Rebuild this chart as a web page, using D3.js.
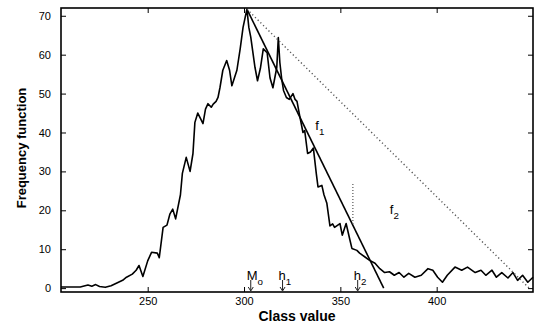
<!DOCTYPE html>
<html>
<head>
<meta charset="utf-8">
<script src="https://cdn.jsdelivr.net/npm/d3@7"></script>
<style>
  html, body { margin: 0; padding: 0; background: #fff; }
  svg { display: block; }
  text { font-family: "Liberation Sans", Arial, Helvetica, sans-serif; fill: #000; }
</style>
</head>
<body>
<svg id="chart" width="535" height="325"></svg>
<script>
// Class values (x) and frequency function values (y) of the histogram curve
const classValues = [205, 215, 219, 221, 223, 225, 228, 231, 234, 237, 239, 242, 244, 245.5, 247.5, 250, 252, 255, 256, 258,
  260, 261.5, 263, 264.5, 267, 268, 270, 272, 273.5, 274.5, 276, 277.5, 278.7, 280, 281.3, 283, 284, 285.5, 286.5, 287.5,
  289, 291, 292.5, 293.7, 295, 296.3, 298, 299.5, 301.5, 302.5, 303.5, 305.7, 307, 308.5, 310, 312, 313.5, 315, 317, 317.8,
  318.6, 319.5, 320.5, 322, 323.5, 325.4, 326.5, 327.5, 329, 330.6, 331.5, 333, 334.5, 336, 337.5, 338.4, 340.4, 341.5, 343, 344.6,
  346, 347, 349.8, 351, 353, 355, 356, 358.6, 360, 362.8, 365, 368, 370.5, 373, 375.5, 378, 380.5, 383, 385.5, 388.7,
  392, 395.5, 398, 400.5, 403, 405.5, 409.5, 413, 416, 420, 423, 425.5, 428.7, 431, 433.8, 437, 439.6, 442, 444.6, 447.3, 450];
const frequency = [0.3, 0.3, 0.8, 0.5, 0.9, 0.4, 0.2, 0.6, 1.3, 2.0, 2.8, 3.6, 4.6, 5.8, 3.0, 7.0, 9.2, 9.0, 7.8, 15.6,
  16.2, 19, 20.3, 17.8, 24, 29.5, 33.6, 30, 34.6, 42.6, 45, 43.5, 42.3, 46, 47.4, 46.5, 47.3, 48, 49, 51.5,
  56, 58.5, 56, 52, 54, 56, 61.5, 67, 71.7, 67, 64.5, 56.7, 53.3, 56.5, 61.5, 60.5, 54, 51.5, 56.7, 64.4,
  58, 54, 50.8, 49, 48.5, 50, 48.5, 48, 44, 40, 40.5, 34.6, 35, 36, 29.5, 26, 26.4, 24, 21.8, 16,
  16.5, 15.6, 16.6, 13.6, 16.6, 12.3, 10.2, 9.7, 9, 8, 7.2, 6.4, 5, 4, 4.2, 3.3, 4, 2.8, 3.8, 2.8,
  3.3, 5, 4.6, 2.8, 1.5, 3.3, 5.4, 4.6, 5.4, 4, 4.6, 3.3, 4.6, 2.8, 4, 2.6, 4, 2, 3.3, 1.5, 2.8];

// Tangent lines from the mode down to the class axis
const lineF1 = [[301.5, 71.7], [372.5, 0]];
const lineF2 = [[301.5, 71.7], [448, 0]];
// Vertical guide (class value, from, to)
const guideX = 356.5, guideRange = [16.5, 27];

// Marked class values along the axis
const markerNames = ["M", "h", "h"];
const markerSubs = ["o", "1", "2"];
const markerValues = [303.5, 320, 359];

// Axis ticks
const xTicks = [250, 300, 350, 400];
const yTicks = [0, 10, 20, 30, 40, 50, 60, 70];

const svg = d3.select("#chart");
const plot = { left: 61, right: 533, top: 8, bottom: 292 };

const x = d3.scaleLinear().domain([205, 450]).range([plot.left, plot.right]);
const y = d3.scaleLinear().domain([-1, 72]).range([plot.bottom, plot.top]);

// Axes with inward ticks on all four sides
const tickLen = 5;
svg.append("g").attr("transform", `translate(0,${plot.bottom})`)
  .call(d3.axisBottom(x).tickValues(xTicks).tickSizeInner(-tickLen).tickSizeOuter(0).tickPadding(5))
  .call(g => g.select(".domain").remove());
svg.append("g").attr("transform", `translate(0,${plot.top})`)
  .call(d3.axisTop(x).tickValues(xTicks).tickSizeInner(-tickLen).tickSizeOuter(0).tickFormat(""))
  .call(g => g.select(".domain").remove());
svg.append("g").attr("transform", `translate(${plot.left},0)`)
  .call(d3.axisLeft(y).tickValues(yTicks).tickSizeInner(-tickLen).tickSizeOuter(0).tickPadding(10))
  .call(g => g.select(".domain").remove());
svg.append("g").attr("transform", `translate(${plot.right},0)`)
  .call(d3.axisRight(y).tickValues(yTicks).tickSizeInner(-tickLen).tickSizeOuter(0).tickFormat(""))
  .call(g => g.select(".domain").remove());

svg.selectAll(".tick line").attr("stroke", "#000").attr("stroke-width", 1);
svg.selectAll(".tick text").attr("font-size", 11).attr("font-family", "Liberation Sans, Arial, sans-serif").attr("fill", "#000");

// Histogram curve
const pts = classValues.map((c, i) => [c, frequency[i]]);
const line = d3.line().x(d => x(d[0])).y(d => y(d[1]));
svg.append("path").datum(pts).attr("d", line)
  .attr("fill", "none").attr("stroke", "#000").attr("stroke-width", 1.6).attr("stroke-linejoin", "round");

// f1: solid tangent, f2: dotted tangent
svg.append("path").datum(lineF1).attr("d", line)
  .attr("fill", "none").attr("stroke", "#000").attr("stroke-width", 1.6);
svg.append("path").datum(lineF2).attr("d", line)
  .attr("fill", "none").attr("stroke", "#555").attr("stroke-width", 1.4).attr("stroke-dasharray", "1.2,2.6");
svg.append("line")
  .attr("x1", x(guideX)).attr("x2", x(guideX)).attr("y1", y(guideRange[0])).attr("y2", y(guideRange[1]))
  .attr("stroke", "#555").attr("stroke-width", 1.2).attr("stroke-dasharray", "1,2");

// Line labels
function subLabel(px, py, main, sub, size) {
  const t = svg.append("text").attr("x", px).attr("y", py).attr("font-size", size);
  t.append("tspan").text(main);
  t.append("tspan").attr("dy", 5).attr("font-size", size * 0.75).text(sub);
  return t;
}
subLabel(x(337), y(40.6), "f", "1", 13);
subLabel(x(375.7), y(19), "f", "2", 13);

// Markers: downward arrows with labels
markerValues.forEach((v, i) => {
  const px = x(v);
  svg.append("line").attr("x1", px).attr("x2", px).attr("y1", plot.bottom - 12).attr("y2", plot.bottom - 2)
    .attr("stroke", "#222").attr("stroke-width", 1);
  svg.append("path")
    .attr("d", `M${px - 2.5},${plot.bottom - 5} L${px},${plot.bottom - 1} L${px + 2.5},${plot.bottom - 5}`)
    .attr("fill", "none").attr("stroke", "#222").attr("stroke-width", 1);
  subLabel(px - 4, plot.bottom - 12, markerNames[i], markerSubs[i], 13).attr("fill", "#222");
});

// Frame
svg.append("rect").attr("x", plot.left).attr("y", plot.top)
  .attr("width", plot.right - plot.left).attr("height", plot.bottom - plot.top)
  .attr("fill", "none").attr("stroke", "#000").attr("stroke-width", 1.6);

// Axis titles
svg.append("text").attr("x", 297).attr("y", 321)
  .attr("text-anchor", "middle").attr("font-size", 14).attr("font-weight", "bold").text("Class value");
svg.append("text").attr("transform", `translate(26,148) rotate(-90)`)
  .attr("text-anchor", "middle").attr("font-size", 13).attr("font-weight", "bold").text("Frequency function");
</script>
</body>
</html>
